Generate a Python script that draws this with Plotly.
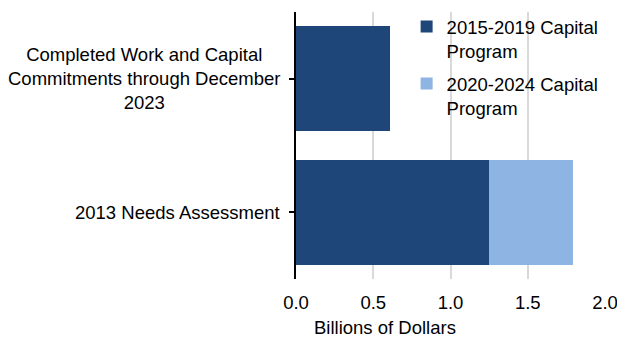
import plotly.graph_objects as go

categories = ["2013 Needs Assessment",
              "Completed Work and Capital Commitments through December 2023"]
cat_labels = ["2013 Needs Assessment",
              "Completed Work and Capital<br>Commitments through December<br>2023"]
series_names = ["2015-2019 Capital<br>Program", "2020-2024 Capital<br>Program"]
values_2015_2019 = [1.25, 0.61]
values_2020_2024 = [0.54, None]
x_ticks = [0.0, 0.5, 1.0, 1.5, 2.0]
x_tick_text = ["0.0", "0.5", "1.0", "1.5", "2.0"]
colors = ["#1F4678", "#8EB4E3"]

FONT = "Liberation Sans, Arial, sans-serif"
FS = 18.5

fig = go.Figure()
fig.add_trace(go.Bar(y=categories, x=values_2015_2019, orientation="h",
                     name=series_names[0], legendgroup="a",
                     marker=dict(color=colors[0], line=dict(width=0))))
fig.add_trace(go.Bar(y=categories, x=values_2020_2024, orientation="h",
                     name=series_names[1], legendgroup="b",
                     marker=dict(color=colors[1], line=dict(width=0))))

for c, lab in zip(categories, cat_labels):
    fig.add_annotation(text=lab, xref="paper", yref="y", x=0, y=c,
                       xanchor="right", yanchor="middle", align="center",
                       xshift=-14, showarrow=False,
                       font=dict(family=FONT, size=FS, color="#000000"))

fig.add_annotation(text="Billions of Dollars", xref="paper", yref="paper",
                   x=0.288, y=0, yshift=-36, xanchor="center", yanchor="top",
                   showarrow=False, font=dict(family=FONT, size=FS, color="#000000"))

fig.update_layout(
    width=617, height=337,
    margin=dict(l=296, r=12, t=12, b=58, autoexpand=False),
    barmode="stack", bargap=0.21,
    plot_bgcolor="white", paper_bgcolor="white",
    font=dict(family=FONT, size=FS, color="#000000"),
    showlegend=True,
    legend=dict(x=0.358, y=1.015, xanchor="left", yanchor="top",
                bgcolor="rgba(0,0,0,0)", valign="top", traceorder="grouped",
                font=dict(family=FONT, size=FS, color="#000000"),
                itemwidth=30, tracegroupgap=6),
    xaxis=dict(range=[0, 2.0], tickvals=x_ticks, ticktext=x_tick_text,
               showgrid=True, gridcolor="#D9D9D9", gridwidth=1.5,
               zeroline=False, showline=False, ticks="outside", ticklen=7,
               tickcolor="rgba(0,0,0,0)", ticklabeloverflow="allow",
               fixedrange=True),
    yaxis=dict(categoryorder="array", categoryarray=categories,
               showticklabels=False, showline=True, linecolor="#000000", linewidth=2,
               ticks="outside", ticklen=5, tickwidth=1.5, tickcolor="#000000",
               showgrid=False, zeroline=False, range=[-0.5, 1.5]),
)

fig.write_html("out.html")
